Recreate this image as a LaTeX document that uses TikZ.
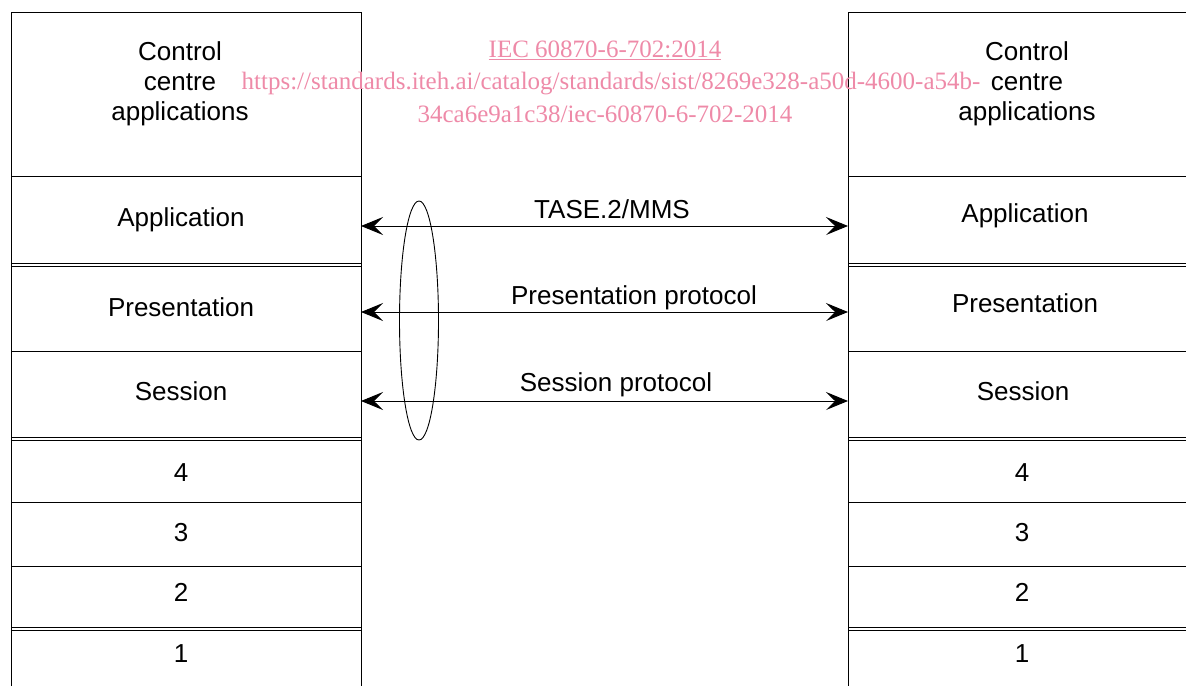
\documentclass[tikz,border=0pt]{standalone}
\usepackage{fontspec}
\setmainfont{Liberation Sans}
\newfontfamily\wmfont{Liberation Serif}
\usetikzlibrary{arrows.meta,shapes.geometric}
\definecolor{wmpink}{RGB}{238,138,168}
\begin{document}
\begin{tikzpicture}[x=1pt,y=-1pt,line width=1pt,
  lbl/.style={font=\fontsize{26}{30}\selectfont, align=center, inner sep=0pt},
  bl/.style={lbl, anchor=base},
  proto/.style={{Stealth[length=22pt,width=18pt,inset=9pt]}-{Stealth[length=22pt,width=18pt,inset=9pt]}, line width=0.9pt},
  wm/.style={font=\wmfont\fontsize{25}{30}\selectfont, text=wmpink, inner sep=0pt}]
\useasboundingbox (0,0) rectangle (1186,686);
% left stack
\draw (11,686) -- (11,12) -- (361,12) -- (361,686);
\foreach \y in {176,263,266,351,437,440,502,566,627,630} \draw (11,\y) -- (361,\y);
% right stack
\draw (1186,12) -- (848,12) -- (848,686);
\foreach \y in {176,263,266,351,437,440,502,566,627,630} \draw (848,\y) -- (1186,\y);
% left labels
\node[lbl] (lc) at (180,84) {Control\\centre\\applications};
\node[bl] (la) at (181,226) {Application};
\node[bl] (lp) at (181,316) {Presentation};
\node[bl] (ls) at (181,400) {Session};
\node[bl] (l4) at (181,481) {4};
\node[bl] (l3) at (181,541) {3};
\node[bl] (l2) at (181,601) {2};
\node[bl] (l1) at (181,662) {1};
% right labels
\node[lbl] (rc) at (1027,84) {Control\\centre\\applications};
\node[bl] (ra) at (1025,222) {Application};
\node[bl] (rp) at (1025,312) {Presentation};
\node[bl] (rs) at (1023,400) {Session};
\node[bl] (r4) at (1022,481) {4};
\node[bl] (r3) at (1022,541) {3};
\node[bl] (r2) at (1022,601) {2};
\node[bl] (r1) at (1022,662) {1};
% protocol arrows
\coordinate (LA) at (361,226); \coordinate (RA) at (848,226);
\coordinate (LP) at (361,312); \coordinate (RP) at (848,312);
\coordinate (LS) at (361,401); \coordinate (RS) at (848,401);
\draw[proto] (LA) -- (RA);
\draw[proto] (LP) -- (RP);
\draw[proto] (LS) -- (RS);
\node[bl] (ta) at (612,218) {TASE.2/MMS};
\node[bl] (tp) at (634,304) {Presentation protocol};
\node[bl] (ts) at (616,391) {Session protocol};
\node[draw, ellipse, minimum width=39pt, minimum height=239pt, inner sep=0pt, line width=0.9pt] (grp) at (419,320.5) {};
% watermark
\node[wm] (w1) at (605,50) {\underline{IEC 60870-6-702:2014}};
\node[wm] (w2) at (611,84) {https://standards.iteh.ai/catalog/standards/sist/8269e328-a50d-4600-a54b-};
\node[wm] (w3) at (605,114) {34ca6e9a1c38/iec-60870-6-702-2014};
\end{tikzpicture}
\end{document}
